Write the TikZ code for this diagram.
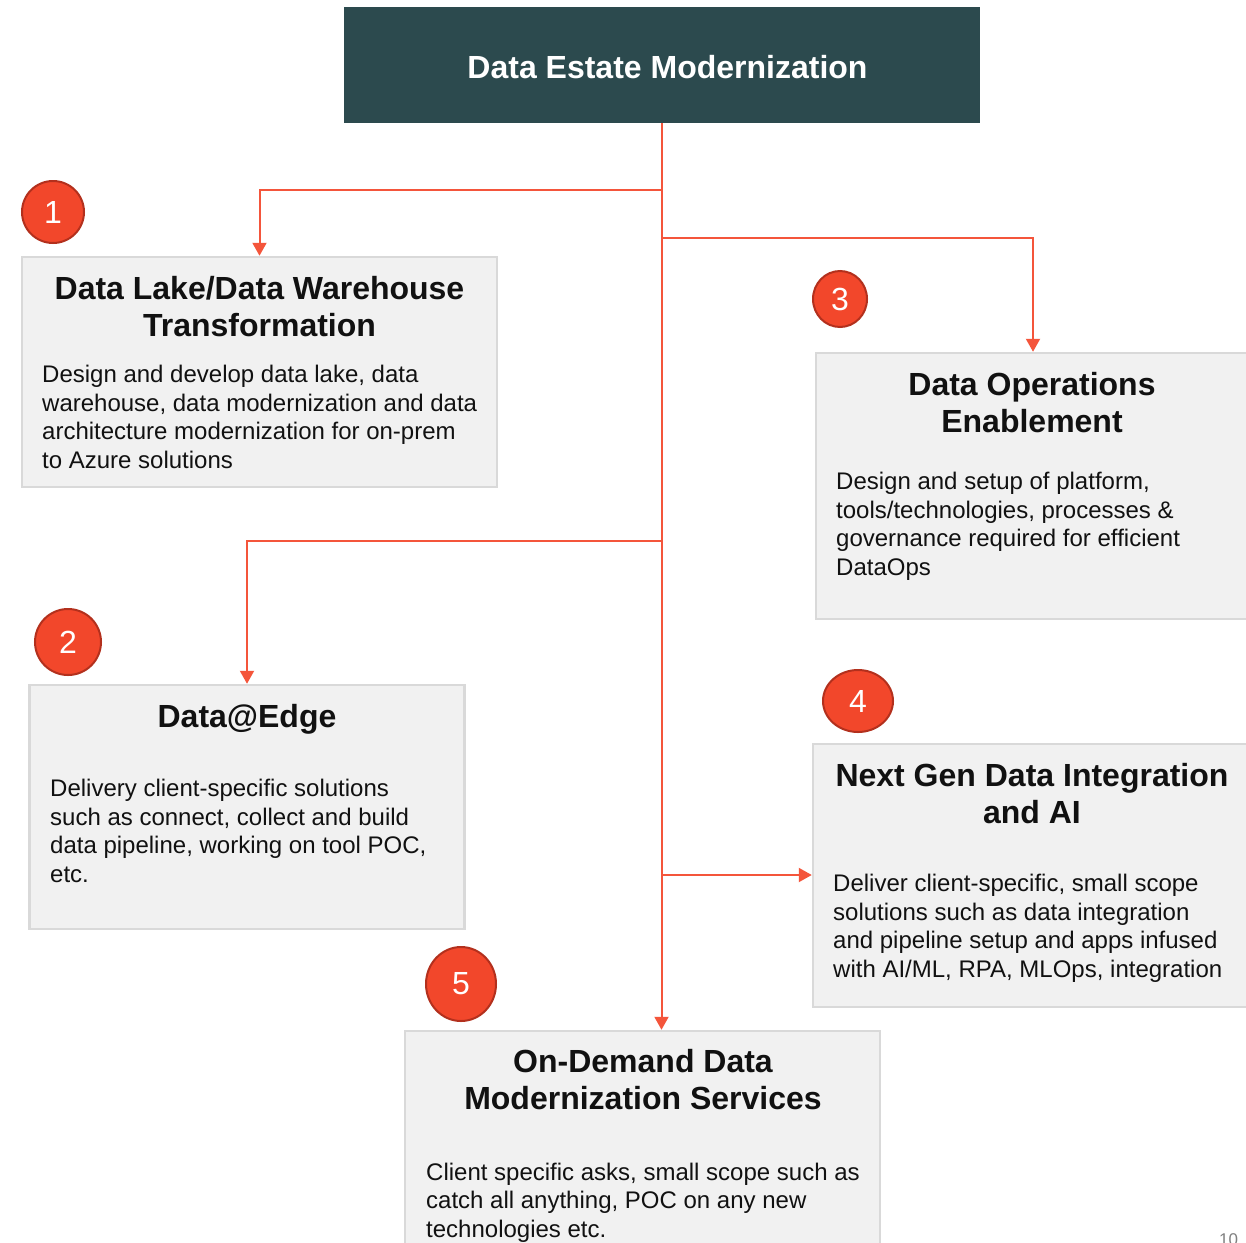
\documentclass[tikz,border=0pt]{standalone}
\usepackage{fontspec}
\setmainfont{Liberation Sans}
\usetikzlibrary{arrows.meta,shapes.geometric}

\definecolor{headteal}{HTML}{2C4A4E}
\definecolor{linkred}{HTML}{F4553B}
\definecolor{boxfill}{HTML}{F1F1F1}
\definecolor{boxedge}{HTML}{D9D9D9}
\definecolor{badgered}{HTML}{F2472B}
\definecolor{badgeedge}{HTML}{B3301D}
\definecolor{inkgray}{HTML}{111111}

\tikzstyle{headbox} = [rectangle,fill=headteal,text=white,minimum width=636pt,minimum height=116pt,inner sep=0pt,text height=26pt,text depth=0pt,font=\fontsize{32}{37}\selectfont\bfseries]
\tikzstyle{card} = [rectangle,fill=boxfill,draw=boxedge,line width=2.5pt,inner sep=0pt]
\tikzstyle{cardtitle} = [anchor=base,align=center,inner sep=0pt,text=inkgray,font=\fontsize{32}{37}\selectfont\bfseries]
\tikzstyle{cardtext} = [anchor=base west,align=left,inner sep=0pt,text=inkgray,font=\fontsize{24}{28.4}\selectfont]
\tikzstyle{badge} = [ellipse,fill=badgered,draw=badgeedge,line width=2pt,text=white,inner sep=0pt,font=\fontsize{32}{32}\selectfont]
\tikzstyle{link} = [->,>={Triangle[width=14pt,length=13pt]},draw=linkred,line width=2pt]

\begin{document}
\begin{tikzpicture}[x=1pt,y=-1pt]
		\clip (0,0) rectangle (1246,1242);
		\fill[white] (0,0) rectangle (1246,1242);

		\node[headbox] (head) at (661.5,65) {\hspace*{12pt}Data Estate Modernization};

		\node[card,minimum width=475pt,minimum height=230pt] (lake) at (259.5,372) {};
		\node[card,minimum width=434pt,minimum height=266pt] (ops) at (1033,486) {};
		\node[card,minimum width=435pt,minimum height=244pt] (edge) at (247,807) {};
		\node[card,minimum width=447pt,minimum height=263pt] (nextgen) at (1036.5,875.5) {};
		\node[card,minimum width=475pt,minimum height=229pt] (ondemand) at (642.5,1145.5) {};

		% text nodes sit on the baseline of their last line
		\node[cardtitle] (lake-t) at (259.5,336) {Data Lake/Data Warehouse\\Transformation};
		\node[cardtext] (lake-d) at (42,468) {Design and develop data lake, data\\warehouse, data modernization and data\\architecture modernization for on-prem\\to Azure solutions};

		\node[cardtitle] (ops-t) at (1032,432) {Data Operations\\Enablement};
		\node[cardtext] (ops-d) at (836,575) {Design and setup of platform,\\tools/technologies, processes \&\\governance required for efficient\\DataOps};

		\node[cardtitle] (edge-t) at (247,727) {Data@Edge};
		\node[cardtext] (edge-d) at (50,882) {Delivery client-specific solutions\\such as connect, collect and build\\data pipeline, working on tool POC,\\etc.};

		\node[cardtitle] (nextgen-t) at (1032,823) {Next Gen Data Integration\\and AI};
		\node[cardtext] (nextgen-d) at (833,977) {Deliver client-specific, small scope\\solutions such as data integration\\and pipeline setup and apps infused\\with AI/ML, RPA, MLOps, integration};

		\node[cardtitle] (ondemand-t) at (643,1109) {On-Demand Data\\Modernization Services};
		\node[cardtext] (ondemand-d) at (426,1237) {Client specific asks, small scope such as\\catch all anything, POC on any new\\technologies etc.};

		\node[badge,minimum width=62pt,minimum height=62pt] (n1) at (53,212) {1};
		\node[badge,minimum width=66pt,minimum height=66pt] (n2) at (68,642) {2};
		\node[badge,minimum width=54pt,minimum height=56pt] (n3) at (840,299) {3};
		\node[badge,minimum width=70pt,minimum height=62pt] (n4) at (858,701) {4};
		\node[badge,minimum width=70pt,minimum height=74pt] (n5) at (461,984) {5};

		\coordinate (b1) at (661.5,190);
		\coordinate (b3) at (661.5,238);
		\coordinate (b2) at (661.5,541);
		\coordinate (b4) at (661.5,875);
		\draw[link] (head.south) -- (head.south |- ondemand.north);
		\draw[link] (b1) -| (lake.north);
		\draw[link] (b3) -| (ops.north);
		\draw[link] (b2) -| (edge.north);
		\draw[link] (b4) -- (nextgen.west |- b4);

		\node[anchor=base west,inner sep=0pt,text=gray,font=\fontsize{17}{17}\selectfont] (page) at (1219,1245) {10};
\end{tikzpicture}
\end{document}
